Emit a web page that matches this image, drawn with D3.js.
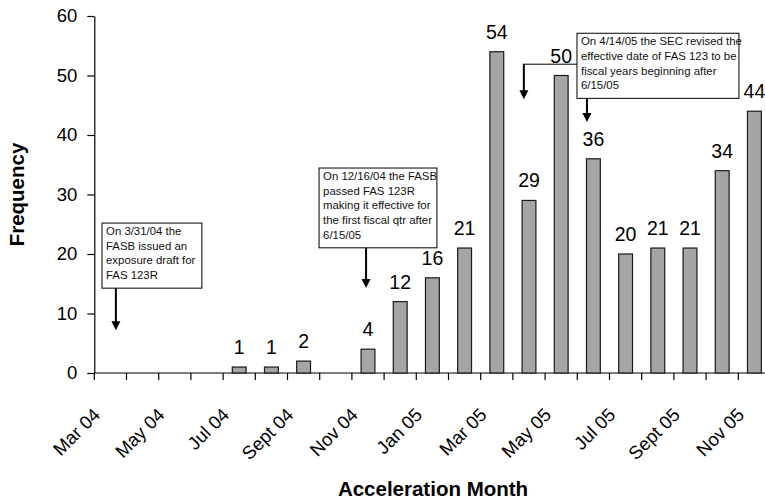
<!DOCTYPE html>
<html>
<head>
<meta charset="utf-8">
<script src="https://cdn.jsdelivr.net/npm/d3@7/dist/d3.min.js"></script>
<style>
  html, body { margin: 0; padding: 0; background: #fff; }
  svg { display: block; font-family: "Liberation Sans", Arial, Helvetica, sans-serif; }
</style>
</head>
<body>
<svg id="chart" width="765" height="503"></svg>
<script>
// Monthly counts of option-vesting accelerations
const months = ["Mar 04","Apr 04","May 04","Jun 04","Jul 04","Aug 04","Sept 04","Oct 04","Nov 04","Dec 04",
                "Jan 05","Feb 05","Mar 05","Apr 05","May 05","Jun 05","Jul 05","Aug 05","Sept 05","Oct 05","Nov 05"];
const counts = [0,0,0,0,1,1,2,0,4,12,16,21,54,29,50,36,20,21,21,34,44];
const tickLabels = ["Mar 04","May 04","Jul 04","Sept 04","Nov 04","Jan 05","Mar 05","May 05","Jul 05","Sept 05","Nov 05"];
const yTicks = [0,10,20,30,40,50,60];

// Event call-outs: box edges in month units, top in frequency units, arrows point at (month, frequency)
const noteText = [
  ["On 3/31/04 the","FASB issued an","exposure draft for","FAS 123R"],
  ["On 12/16/04 the FASB","passed FAS 123R","making it effective for","the first fiscal qtr after","6/15/05"],
  ["On 4/14/05 the SEC revised the","effective date of FAS 123 to be","fiscal years beginning after","6/15/05"]
];
const noteBox = [
  {left: 0.24, right: 3.34, top: 25.2},
  {left: 6.98, right: 10.64, top: 34.45},
  {left: 14.99, right: 20.02, top: 57.1}
];
const noteArrows = [
  {note: 0, x: 0.67, tip: 7.2},
  {note: 1, x: 8.44, tip: 14.3},
  {note: 2, x: 13.34, tip: 46.0, elbow: 51.9},
  {note: 2, x: 15.3, tip: 42.2}
];

const svg = d3.select("#chart");
const x0 = 94.3, step = 32.2;
const x = d3.scaleBand().domain(months).range([x0, x0 + step * months.length])
  .paddingInner(0.57).paddingOuter(0.285);
const xm = d3.scaleLinear().domain([0, months.length]).range([x0, x0 + step * months.length]);
const y = d3.scaleLinear().domain([0, 60]).range([373, 16]);

// y axis
const yAxis = svg.append("g").attr("transform", `translate(${x0},0)`)
  .call(d3.axisLeft(y).tickValues(yTicks).tickSize(7).tickPadding(10).tickSizeOuter(0));
yAxis.select(".domain").attr("stroke", "#000").attr("stroke-width", 1.2);
yAxis.selectAll(".tick line").attr("stroke", "#000").attr("stroke-width", 1.2);
yAxis.selectAll(".tick text").attr("font-size", 18.5).attr("fill", "#000")
  .attr("font-family", "Liberation Sans, Arial, sans-serif");

// x axis: ticks fall between months
const xAxisG = svg.append("g");
xAxisG.append("line").attr("x1", x0).attr("x2", xm(months.length)).attr("y1", y(0)).attr("y2", y(0))
  .attr("stroke", "#000").attr("stroke-width", 1.2);
xAxisG.selectAll("line.tk").data(d3.range(months.length + 1)).join("line").attr("class", "tk")
  .attr("x1", d => xm(d)).attr("x2", d => xm(d)).attr("y1", y(0)).attr("y2", y(0) + 7)
  .attr("stroke", "#000").attr("stroke-width", 1.2);
xAxisG.selectAll("text").data(tickLabels).join("text")
  .attr("transform", d => `translate(${x(d) + x.bandwidth() / 2 - 9},416) rotate(-45)`)
  .attr("text-anchor", "end").attr("font-size", 18.5).attr("fill", "#000").text(d => d);

// bars
const data = months.map((m, i) => ({m, v: counts[i]}));
svg.append("g").selectAll("rect").data(data.filter(d => d.v > 0)).join("rect")
  .attr("x", d => x(d.m)).attr("width", x.bandwidth())
  .attr("y", d => y(d.v)).attr("height", d => y(0) - y(d.v))
  .attr("fill", "#a5a5a5").attr("stroke", "#1a1a1a").attr("stroke-width", 1.2);

// value labels
svg.append("g").selectAll("text").data(data.filter(d => d.v > 0)).join("text")
  .attr("x", d => x(d.m) + x.bandwidth() / 2).attr("y", d => y(d.v) - 13)
  .attr("text-anchor", "middle").attr("font-size", 19.5).attr("fill", "#000").text(d => d.v);

// axis titles
svg.append("text").attr("transform", `translate(24,${(y(0) + y(60)) / 2}) rotate(-90)`)
  .attr("text-anchor", "middle").attr("font-size", 20.5).attr("font-weight", "bold").text("Frequency");
svg.append("text").attr("x", 433).attr("y", 496)
  .attr("text-anchor", "middle").attr("font-size", 20.5).attr("font-weight", "bold").text("Acceleration Month");

// call-out boxes
const lineGap = 14.7;
const boxBottom = (i) => y(noteBox[i].top) + 12 + (noteText[i].length - 1) * lineGap + 9;
const notes = svg.append("g");
noteText.forEach((lines, i) => {
  const b = noteBox[i];
  const top = y(b.top);
  notes.append("rect").attr("x", xm(b.left)).attr("y", top)
    .attr("width", xm(b.right) - xm(b.left)).attr("height", boxBottom(i) - top)
    .attr("fill", "#fff").attr("stroke", "#000").attr("stroke-width", 1);
  notes.append("g").selectAll("text").data(lines).join("text")
    .attr("x", xm(b.left) + 4).attr("y", (d, k) => top + 12 + k * lineGap)
    .attr("font-size", 11.4).attr("fill", "#111").text(d => d);
});

// arrows
const head = (cx, tipY) => `M${cx - 4.5},${tipY - 9}L${cx + 4.5},${tipY - 9}L${cx},${tipY}Z`;
noteArrows.forEach(a => {
  const ax = xm(a.x);
  const tipY = y(a.tip);
  let startY;
  if (a.elbow !== undefined) {
    startY = y(a.elbow);
    notes.append("line").attr("x1", xm(noteBox[a.note].left)).attr("x2", ax - 1)
      .attr("y1", startY).attr("y2", startY).attr("stroke", "#000").attr("stroke-width", 1);
  } else {
    startY = boxBottom(a.note);
  }
  notes.append("line").attr("x1", ax).attr("x2", ax).attr("y1", startY).attr("y2", tipY - 8)
    .attr("stroke", "#000").attr("stroke-width", 2);
  notes.append("path").attr("d", head(ax, tipY)).attr("fill", "#000");
});
</script>
</body>
</html>
